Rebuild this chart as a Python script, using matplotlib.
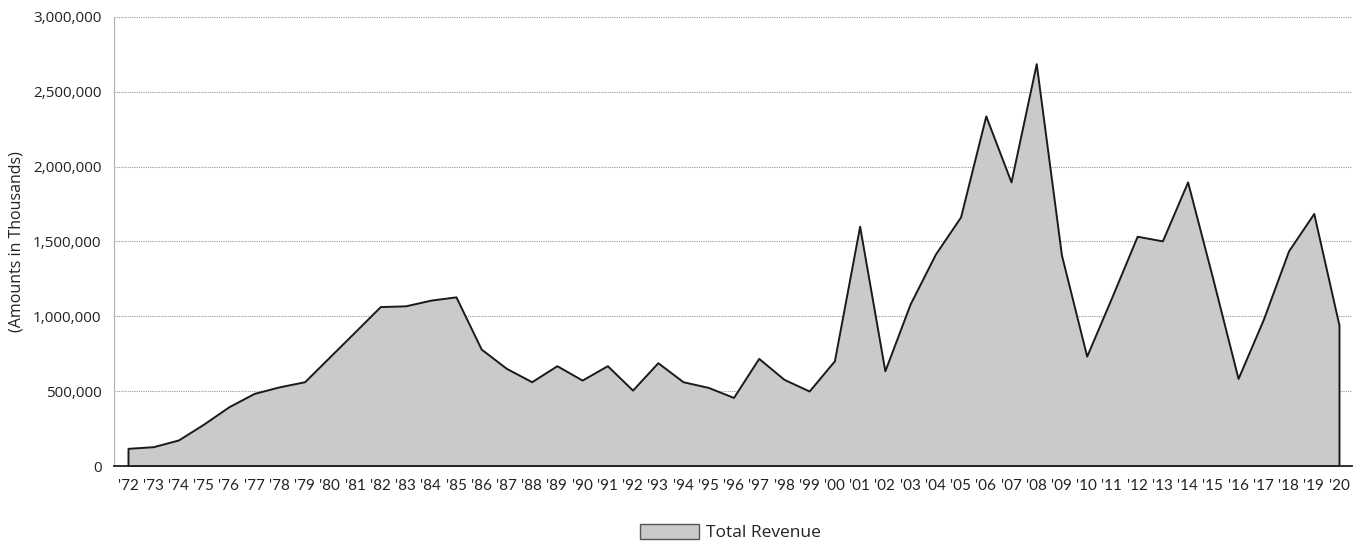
import numpy as np
import matplotlib
matplotlib.use('Agg')
import matplotlib.pyplot as plt
from matplotlib.ticker import FuncFormatter

years = ["'72", "'73", "'74", "'75", "'76", "'77", "'78", "'79", "'80", "'81",
         "'82", "'83", "'84", "'85", "'86", "'87", "'88", "'89", "'90", "'91",
         "'92", "'93", "'94", "'95", "'96", "'97", "'98", "'99", "'00", "'01",
         "'02", "'03", "'04", "'05", "'06", "'07", "'08", "'09", "'10", "'11",
         "'12", "'13", "'14", "'15", "'16", "'17", "'18", "'19", "'20"]

# total revenue, amounts in thousands
total_revenue = [118000, 129000, 174000, 280000, 396000, 485000, 529000, 563000, 730000, 897000,
                 1065000, 1070000, 1108000, 1130000, 781000, 652000, 563000, 670000, 574000, 670000,
                 507000, 690000, 563000, 525000, 458000, 719000, 579000, 501000, 703000, 1602000,
                 636000, 1082000, 1415000, 1664000, 2339000, 1898000, 2688000, 1409000, 734000, 1130000,
                 1535000, 1504000, 1898000, 1250000, 585000, 979000, 1437000, 1687000, 941000]

y_ticks = [0, 500000, 1000000, 1500000, 2000000, 2500000, 3000000]

fig = plt.figure(figsize=(13.57, 5.43), dpi=100)
ax = fig.add_axes([0.084, 0.1418, 0.9123, 0.827])

x = np.arange(len(years))
ax.fill_between(x, 0, total_revenue, facecolor='#cacaca', edgecolor='#1a1a1a',
                linewidth=1.4, label='Total Revenue', zorder=3)

ax.set_xlim(-0.555, len(years) - 1 + 0.515)
ax.set_ylim(0, 3000000)
ax.set_yticks(y_ticks)
ax.yaxis.set_major_formatter(FuncFormatter(lambda v, p: '{:,.0f}'.format(v)))
ax.set_xticks(x)
ax.set_xticklabels(years, fontfamily=['Lato', 'DejaVu Sans'], fontsize=11,
                   color='#222222')
for lab in ax.get_yticklabels():
    lab.set_fontfamily(['Open Sans', 'DejaVu Sans'])
    lab.set_fontsize(11)
    lab.set_color('#222222')

ax.tick_params(axis='both', length=0)
ax.tick_params(axis='x', pad=9)
ax.tick_params(axis='y', pad=9)

ax.grid(axis='y', color='#9a9a9a', linestyle=(0, (1, 1)), linewidth=0.8, zorder=0)
ax.spines['top'].set_visible(False)
ax.spines['right'].set_visible(False)
ax.spines['left'].set_color('#b0b0b0')
ax.spines['left'].set_linewidth(0.8)
ax.spines['bottom'].set_color('#222222')
ax.spines['bottom'].set_linewidth(1.3)
ax.spines['bottom'].set_zorder(4)

ax.set_ylabel('(Amounts in Thousands)', fontfamily=['Open Sans', 'DejaVu Sans'],
              fontsize=11.5, color='#222222', labelpad=6)

leg = fig.legend(loc='lower center', bbox_to_anchor=(0.538, -0.026), frameon=False,
                 prop={'family': ['Open Sans', 'DejaVu Sans'], 'size': 12.5},
                 handlelength=3.4, handleheight=0.9, handletextpad=0.4)
for t in leg.get_texts():
    t.set_color('#222222')
for h in leg.legend_handles:
    h.set_edgecolor('#555555')
    h.set_linewidth(1.0)

fig.savefig('out.png', dpi=100, facecolor='white')
